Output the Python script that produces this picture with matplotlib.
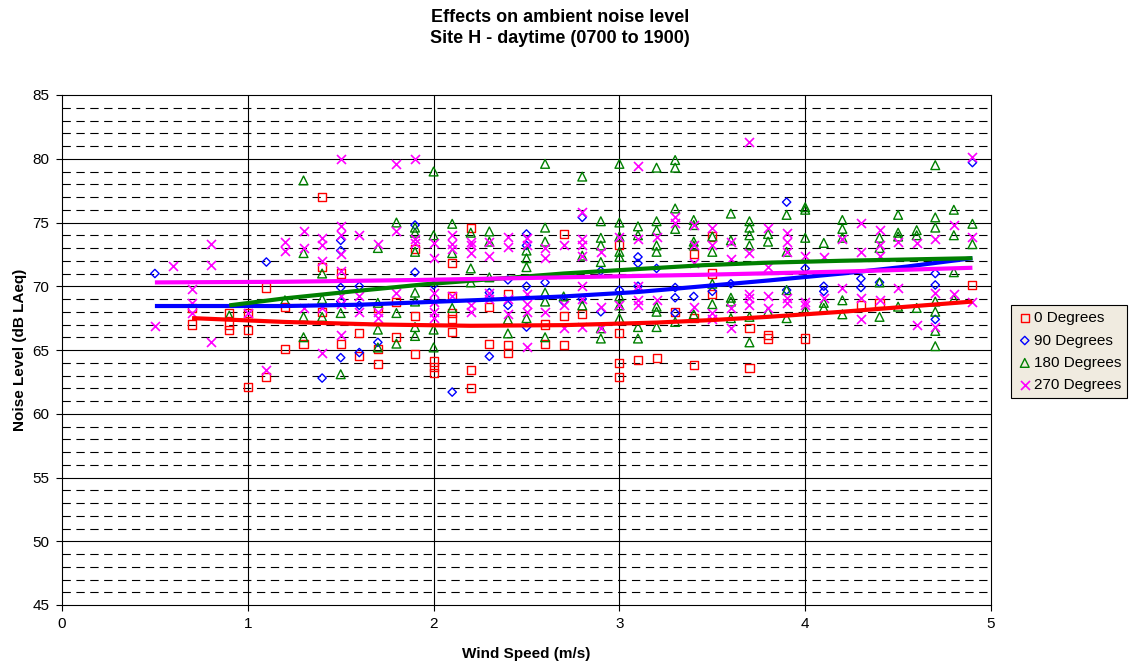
import matplotlib
matplotlib.use("Agg")
import matplotlib.pyplot as plt

plt.rcParams["font.family"] = ["Liberation Sans", "DejaVu Sans"]
plt.rcParams["lines.scale_dashes"] = False

# scatter data: (wind speed, [noise levels at that speed])
deg0 = [(0.7, [68.3, 67.0]), (0.9, [67.9, 67.0, 66.6]), (1.0, [67.9, 66.6, 62.1]),
        (1.1, [69.9, 62.9]), (1.2, [68.4, 65.1]), (1.3, [65.5]), (1.4, [77.0, 71.5, 68.0]),
        (1.5, [71.0, 65.5]), (1.6, [66.3, 64.5]), (1.7, [68.3, 65.1, 63.9]), (1.8, [68.8, 66.0]),
        (1.9, [72.9, 67.7, 64.7]), (2.0, [64.1, 63.7, 63.2]), (2.1, [71.8, 69.2, 67.9, 67.4, 66.4]),
        (2.2, [74.6, 63.4, 62.0]), (2.3, [68.4, 65.5]), (2.4, [69.4, 65.4, 64.8]), (2.6, [67.0, 65.5]),
        (2.7, [74.1, 67.7, 65.4]), (2.8, [67.8]), (3.0, [73.2, 66.3, 64.0, 62.9]), (3.1, [64.2]),
        (3.2, [64.4]), (3.3, [68.0]), (3.4, [72.5, 67.5, 63.8]), (3.5, [73.9, 71.0, 69.4]),
        (3.7, [66.7, 63.6]), (3.8, [66.2, 65.9]), (4.0, [65.9]), (4.3, [68.5]), (4.4, [68.7]),
        (4.9, [70.1])]

deg90 = [(0.5, [71.0]), (1.1, [71.9]), (1.4, [62.8]), (1.5, [73.6, 72.8, 69.9, 68.8, 64.4]),
         (1.6, [70.0, 68.5, 64.8]), (1.7, [65.6]), (1.9, [74.8, 71.1]), (2.0, [70.1]), (2.1, [61.7]),
         (2.3, [69.5, 64.5]), (2.4, [70.5, 68.5]), (2.5, [74.1, 73.2, 70.0, 66.8]), (2.6, [70.3]),
         (2.7, [68.8]), (2.8, [75.4, 69.0]), (2.9, [71.2, 68.0]), (3.0, [69.7]), (3.1, [72.3, 71.8, 70.0]),
         (3.2, [71.4]), (3.3, [69.9, 69.1, 67.9]), (3.4, [69.2]), (3.5, [69.6]), (3.6, [70.2]),
         (3.9, [76.6, 69.7]), (4.0, [71.4]), (4.1, [70.0, 69.6]), (4.3, [70.6, 69.9]), (4.4, [70.3]),
         (4.7, [71.0, 70.1, 67.4]), (4.9, [79.7])]

deg180 = [(0.9, [67.7]), (1.2, [68.9]), (1.3, [78.3, 72.6, 67.6, 66.0]), (1.4, [71.0, 69.0, 67.6]),
          (1.5, [67.9, 63.1]), (1.7, [73.0, 68.7, 66.6, 65.2]), (1.8, [75.0, 67.9, 65.5]),
          (1.9, [74.6, 74.2, 72.7, 69.5, 68.8, 66.8, 66.1]), (2.0, [79.0, 74.0, 66.6, 65.2]),
          (2.1, [74.9, 72.6, 68.3]), (2.2, [74.2, 71.4, 70.3]), (2.3, [74.3, 73.5, 70.7]),
          (2.4, [67.4, 66.3]), (2.5, [72.8, 72.2, 71.5, 67.5]), (2.6, [79.6, 74.6, 73.5, 69.5, 68.8, 66.0]),
          (2.7, [69.2]), (2.8, [78.6, 72.4, 68.5]), (2.9, [75.1, 73.8, 73.2, 71.9, 66.7, 65.9]),
          (3.0, [79.6, 75.0, 73.9, 72.7, 72.3, 69.2, 68.5, 67.5]), (3.1, [74.7, 74.0, 66.8, 65.9]),
          (3.2, [79.3, 75.1, 74.4, 73.2, 72.7, 68.4, 68.0, 66.8]), (3.3, [79.9, 79.3, 76.1, 74.5, 67.2]),
          (3.4, [75.2, 74.8, 73.5, 73.2, 67.8]), (3.5, [73.9, 72.7, 70.2, 68.6]),
          (3.6, [75.7, 73.6, 69.1, 68.8, 67.5]), (3.7, [75.1, 74.6, 74.0, 73.2, 67.6, 65.6]),
          (3.8, [74.1, 73.5, 68.0]), (3.9, [75.6, 72.7, 69.7, 67.5]), (4.0, [76.2, 76.0, 73.8, 68.1]),
          (4.1, [73.4, 68.7, 68.3]), (4.2, [75.2, 74.5, 73.8, 68.9, 67.8]), (4.4, [73.8, 73.0, 70.3, 67.6]),
          (4.5, [75.6, 74.2, 73.9, 68.4]), (4.6, [74.4, 74.0, 68.3]),
          (4.7, [79.5, 75.4, 74.6, 68.8, 68.0, 66.5, 65.3]), (4.8, [76.0, 74.0, 71.1, 69.0]),
          (4.9, [74.9, 73.3])]

deg270 = [(0.5, [66.9]), (0.6, [71.6]), (0.7, [69.8, 68.7, 67.9]), (0.8, [73.3, 71.7, 65.6]),
          (1.0, [67.9]), (1.1, [63.4]), (1.2, [73.5, 72.8]), (1.3, [74.3, 73.0, 68.3]),
          (1.4, [73.8, 73.2, 72.0, 68.3, 64.8]), (1.5, [80.0, 74.7, 74.0, 72.5, 71.2, 69.2, 68.6, 66.2]),
          (1.6, [74.0, 69.2, 68.0]), (1.7, [73.3, 68.0, 67.5]), (1.8, [79.6, 74.3, 69.5]),
          (1.9, [80.0, 73.7, 73.4]), (2.0, [73.4, 72.2, 69.5, 68.8, 68.0, 67.5]),
          (2.1, [74.0, 73.3, 72.9, 69.2]), (2.2, [73.5, 73.2, 72.6, 68.5, 68.0]),
          (2.3, [73.5, 72.4, 69.5, 69.0]), (2.4, [73.9, 73.1, 69.0, 67.8]),
          (2.5, [73.8, 73.2, 69.4, 68.6, 68.0, 65.2]), (2.6, [73.0, 72.2, 68.0]), (2.7, [73.2, 68.5, 66.7]),
          (2.8, [75.8, 73.7, 73.2, 72.4, 70.0, 69.0, 66.8]), (2.9, [72.7, 68.4, 66.7]), (3.0, [73.9, 68.5]),
          (3.1, [79.4, 73.7, 70.0, 68.9, 68.5]), (3.2, [73.9, 68.9]), (3.3, [75.4, 75.0]),
          (3.4, [74.8, 73.2, 71.8, 68.4]), (3.5, [74.6, 73.2, 67.9, 67.4]), (3.6, [73.5, 72.1, 68.3, 66.7]),
          (3.7, [81.3, 72.6, 69.4, 69.1, 68.5]), (3.8, [74.6, 71.5, 69.2, 68.3]),
          (3.9, [74.2, 73.5, 72.7, 69.1, 68.7]), (4.0, [72.4, 68.8, 68.5]), (4.1, [72.3, 69.1]),
          (4.2, [73.7, 69.9]), (4.3, [75.0, 72.7, 69.1, 67.4]), (4.4, [74.4, 73.2, 72.4, 68.9]),
          (4.5, [73.5, 69.9]), (4.6, [73.4, 67.0]), (4.7, [73.7, 69.5, 66.8]), (4.8, [74.8, 69.4]),
          (4.9, [80.1, 73.9, 68.8])]

# trend lines
trend_x_0 = [0.7, 1.2, 1.7, 2.2, 2.7, 3.2, 3.5, 3.8, 4.2, 4.55, 4.9]
trend_y_0 = [67.5, 67.2, 67.0, 66.9, 66.95, 67.15, 67.35, 67.6, 68.0, 68.4, 68.8]
trend_x_90 = [0.5, 1.2, 1.6, 1.95, 2.3, 2.7, 3.1, 3.45, 3.8, 4.2, 4.55, 4.9]
trend_y_90 = [68.45, 68.45, 68.55, 68.75, 68.95, 69.2, 69.55, 70.0, 70.45, 71.0, 71.55, 72.2]
trend_x_180 = [0.9, 1.2, 1.6, 1.95, 2.35, 2.7, 3.1, 3.45, 3.8, 4.2, 4.55, 4.9]
trend_y_180 = [68.5, 69.05, 69.65, 70.15, 70.6, 71.0, 71.35, 71.65, 71.85, 72.0, 72.1, 72.2]
trend_x_270 = [0.5, 1.2, 1.95, 2.7, 3.45, 4.2, 4.9]
trend_y_270 = [70.3, 70.35, 70.5, 70.7, 70.9, 71.15, 71.45]

labels = ["0 Degrees", "90 Degrees", "180 Degrees", "270 Degrees"]
colors = ["#FF0000", "#0000FF", "#008000", "#FF00FF"]


def expand(serie):
    xs, ys = [], []
    for x, vals in serie:
        for v in vals:
            xs.append(x)
            ys.append(v)
    return xs, ys


fig = plt.figure(figsize=(11.3, 6.68), dpi=100)
ax = fig.add_axes([62 / 1130, 1 - 605 / 668, 929 / 1130, 510 / 668])

# grid
for v in range(46, 85):
    if v % 5 == 0:
        ax.axhline(v, color="black", lw=0.8, zorder=0)
    else:
        ax.axhline(v, color="black", lw=0.8, ls=(0, (6, 4)), zorder=0)
for v in range(1, 5):
    ax.axvline(v, color="black", lw=0.8, zorder=0)

estilos = [
    dict(marker="s", s=34, facecolors="none", linewidths=1.0),
    dict(marker="D", s=18, facecolors="none", linewidths=1.0),
    dict(marker="^", s=40, facecolors="none", linewidths=1.0),
    dict(marker="x", s=42, linewidths=1.2),
]
series = [deg0, deg90, deg180, deg270]
handles = []
for serie, lab, col, est in zip(series, labels, colors, estilos):
    xs, ys = expand(serie)
    if est["marker"] == "x":
        h = ax.scatter(xs, ys, c=col, label=lab, zorder=3, **est)
    else:
        h = ax.scatter(xs, ys, edgecolors=col, label=lab, zorder=3, **est)
    handles.append(h)

ax.plot(trend_x_0, trend_y_0, color=colors[0], lw=3, zorder=4, solid_capstyle="butt")
ax.plot(trend_x_90, trend_y_90, color=colors[1], lw=3, zorder=4, solid_capstyle="butt")
ax.plot(trend_x_180, trend_y_180, color=colors[2], lw=3, zorder=4, solid_capstyle="butt")
ax.plot(trend_x_270, trend_y_270, color=colors[3], lw=3, zorder=4, solid_capstyle="butt")

ax.set_xlim(0, 5)
ax.set_ylim(45, 85)
ax.set_xticks(range(0, 6))
ax.set_yticks(range(45, 90, 5))
ax.tick_params(direction="out", length=4, labelsize=11, width=0.8, pad=5)
for s in ax.spines.values():
    s.set_linewidth(0.8)

ax.set_xlabel("Wind Speed (m/s)", fontsize=11, fontweight="bold", labelpad=11)
ax.set_ylabel("Noise Level (dB LAeq)", fontsize=11, fontweight="bold", labelpad=4)

fig.text(560 / 1130, 1 - 17.5 / 668, "Effects on ambient noise level",
         ha="center", va="center", fontsize=13, fontweight="bold")
fig.text(560 / 1130, 1 - 38.5 / 668, "Site H - daytime (0700 to 1900)",
         ha="center", va="center", fontsize=13, fontweight="bold")

leg = ax.legend(handles=handles, loc="upper left", bbox_to_anchor=(1011 / 1130, 1 - 305 / 668),
                bbox_transform=fig.transFigure, fontsize=11, frameon=True, fancybox=False,
                edgecolor="black", facecolor="#F0EBE0", framealpha=1,
                handletextpad=0.1, handlelength=1.0, borderpad=0.4,
                labelspacing=0.55, borderaxespad=0)
leg.get_frame().set_linewidth(0.8)

fig.savefig("out.png", dpi=100)
